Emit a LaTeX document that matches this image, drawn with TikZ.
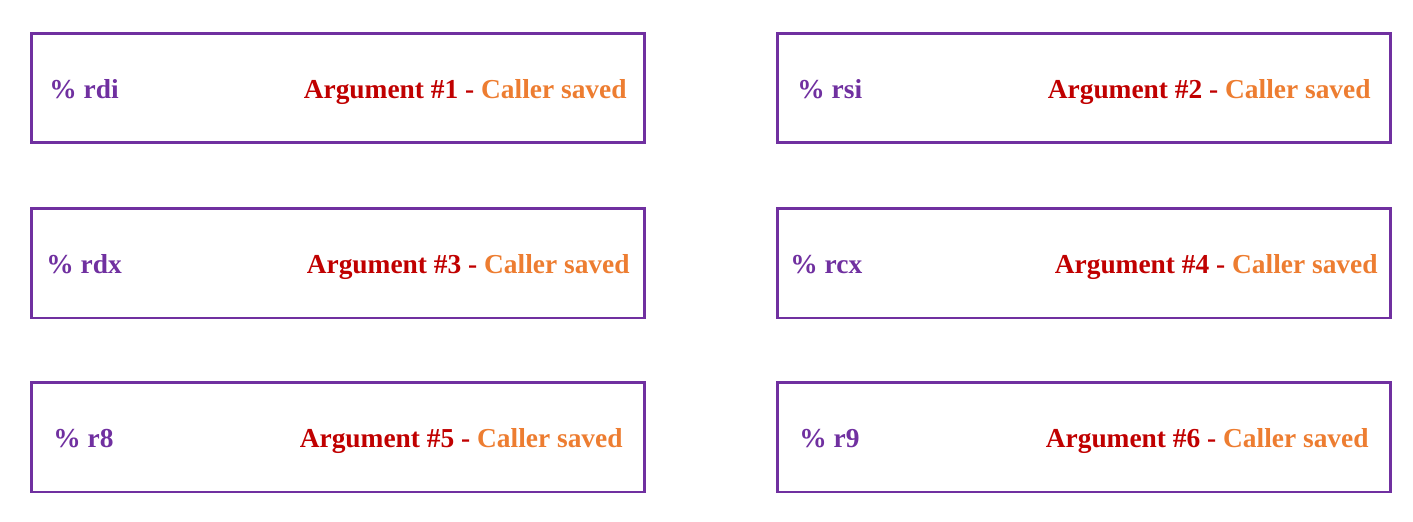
\documentclass[tikz,border=0pt]{standalone}
\usepackage{fontspec}
\setmainfont{Liberation Serif}
\usetikzlibrary{positioning}
\definecolor{regpurple}{RGB}{112,48,160}
\definecolor{argred}{RGB}{192,0,0}
\definecolor{saveorange}{RGB}{237,125,49}
\tikzset{
  regbox/.style={draw=regpurple, line width=1.7pt, minimum width=12.28cm, minimum height=2.2cm, inner sep=0pt, outer sep=0pt},
  regname/.style={text=regpurple, font=\bfseries\fontsize{15.6}{18}\selectfont, inner sep=0pt},
  regrole/.style={text=argred, font=\bfseries\fontsize{15.6}{18}\selectfont, inner sep=0pt}
}
\begin{document}
\begin{tikzpicture}[x=0.02cm, y=-0.02cm]
            \useasboundingbox (0,0) rectangle (1413,521);
            \foreach \n/\cx/\cy/\reg/\pad in {1/338/88/rdi/18, 2/1084/88/rsi/20, 3/338/263/rdx/15, 4/1084/263/rcx/13, 5/338/437/r8/22, 6/1084/437/r9/22}{
                \node[regbox] (box\n) at (\cx,\cy) {};
                \node[regname, anchor=base west] (name\n) at ([xshift=\pad*0.02cm, yshift=-0.2cm]box\n.west) {\% \reg};
                \node[regrole, anchor=base east] (role\n) at ([xshift=-\pad*0.02cm, yshift=-0.2cm]box\n.east) {Argument \#\n{} - \textcolor{saveorange}{Caller saved}};
            }
          \end{tikzpicture}
\end{document}
